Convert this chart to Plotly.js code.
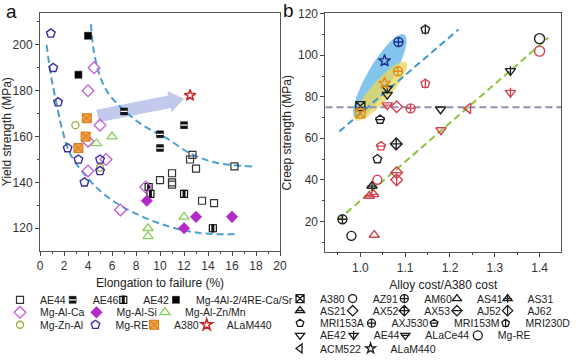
<!DOCTYPE html>
<html><head><meta charset="utf-8">
<script src="https://cdn.plot.ly/plotly-3.0.1.min.js"></script>
<style>html,body{margin:0;padding:0;background:#fff}#chart{width:576px;height:363px}</style>
</head><body><div id="chart"></div>
<script>
// ================= Panel a data (elongation %, yield strength MPa) =================
const aAE44X = [10, 11, 11, 11, 12.7, 12.5, 13, 13.5, 14.5, 16.2];
const aAE44Y = [141, 144, 140, 139, 152, 150, 146, 132, 131, 147];
const aAE46X = [7, 10, 10, 12];
const aAE46Y = [171, 161, 155, 165];
const aAE42X = [9.2, 9.05, 12, 14.4];
const aAE42Y = [135, 138, 135, 120];
const aMg4AlX = [4, 3.2];
const aMg4AlY = [204, 187];
const aMgAlCaX = [4.5, 4.0, 5.0, 4.0, 5.5, 4.0, 6.7, 8.8];
const aMgAlCaY = [190, 180, 165, 158, 150, 145, 128, 138];
const aMgAlSiX = [8.9, 12, 13, 16];
const aMgAlSiY = [132, 120, 125, 125];
const aMgAlZnX = [4.7, 6.0, 9, 9, 12];
const aMgAlZnY = [157, 160, 120, 116.5, 125];
const aMgZnAlX = [2.95, 5.0];
const aMgZnAlY = [165, 146.5];
const aMgREX = [0.9, 1.1, 1.5, 2.3, 3.2, 5.0, 5.0, 3.7];
const aMgREY = [205, 190, 175, 155, 150, 150, 145, 140];
const aA380X = [3.9, 3.8, 3.2];
const aA380Y = [168, 160, 155];
const aALaMX = [12.5];
const aALaMY = [178];
// guide curves
const aCurveLowX = [0.55, 0.9, 1.47, 1.9, 2.57, 3.95, 5.3, 7.0, 10, 13.2, 16.3];
const aCurveLowY = [200, 187, 172, 162, 152, 142, 135, 129, 122, 118, 117.4];
const aCurveHighX = [4.25, 4.6, 5.6, 8.1, 9.7, 10.7, 12.4, 14.6, 17.8];
const aCurveHighY = [209, 194, 179.6, 166.7, 161.6, 158.8, 153, 148.7, 146.9];

// ================= Panel b data (cost ratio, creep strength MPa) =================
const bBlackAlloy = ['A380','AZ91','AM60','AS31','AX53','MRI153A','MRI153M','MRI230D','AE42','AE42','AE44','AE44','Mg-RE'];
const bBlackX = [1.0, 0.98, 0.96, 1.026, 1.08, 1.038, 1.044, 1.145, 1.179, 1.06, 1.06, 1.335, 1.40];
const bBlackY = [75.5, 13, 21, 37, 57.3, 50, 69, 112.4, 74, 81, 84, 92.5, 108];
const bRedAlloy = ['AZ91','AM60','AS41','AS21','AS21','AX52','AJ52','AJ62','MRI153M','MRI230D','AE42','AE44','ALaCe44','Mg-RE','ACM522'];
const bRedX = [1.038, 1.112, 1.031, 1.02, 1.03, 1.081, 1.081, 1.081, 1.046, 1.145, 1.18, 1.335, 1.06, 1.40, 1.241];
const bRedY = [40, 74.4, 13.4, 32.2, 33, 75.2, 43.5, 40, 56.2, 86.3, 64, 82, 76, 102, 74.4];
const bNavyAlloy = ['AXJ530','ALaM440'];
const bNavyX = [1.085, 1.054];
const bNavyY = [106.4, 97.3];
const bOrangeAlloy = ['A380','AXJ530','ALaM440'];
const bOrangeX = [1.0, 1.084, 1.054];
const bOrangeY = [72, 92.3, 86.5];
// guide lines
const bBlueLineX = [0.953, 1.219];
const bBlueLineY = [63.3, 112.4];
const bGreenLineX = [0.95, 1.419];
const bGreenLineY = [20.6, 108.4];
const bRefLineX = [0.922, 1.448];
const bRefLineY = [75, 75];
const bLegendOrder = ['A380','AZ91','AM60','AS41','AS31','AS21','AX52','AX53','AJ52','AJ62',
  'MRI153A','AXJ530','MRI153M','MRI230D','AE42','AE44','ALaCe44','Mg-RE','ACM522','ALaM440'];

// ================= layout / style =================
const W = 576, H = 363;
const FONT = 'Arial, "Liberation Sans", sans-serif';
const layout = {
  width: W, height: H, margin: {l:0, r:0, t:0, b:0},
  paper_bgcolor: '#fff', plot_bgcolor: '#fff', font: {family: FONT, color: '#333'},
  showlegend: true, shapes: [], annotations: []
};
let legendCount = 0;
// each legend entry is its own one-item legend; (sx, sy) = symbol centre in px
function newLegend(sx, sy) {
  legendCount++;
  const key = legendCount === 1 ? 'legend' : 'legend' + legendCount;
  layout[key] = {x: (sx - 20) / W, y: 1 - sy / H, xanchor: 'left', yanchor: 'middle',
    orientation: 'h', bgcolor: 'rgba(0,0,0,0)', borderwidth: 0,
    font: {family: FONT, size: 10.5, color: '#222'}, itemclick: false, itemdoubleclick: false};
  return key;
}

function axisCommon() {
  return {showline: true, linecolor: '#555', linewidth: 1, mirror: true, showgrid: false,
    zeroline: false, ticks: 'outside', ticklen: 4, tickcolor: '#444',
    tickfont: {family: FONT, size: 12, color: '#333'}, automargin: false};
}
layout.xaxis = Object.assign(axisCommon(), {domain: [40.3/W, 282/W], range: [0, 20], anchor: 'y',
  tick0: 0, dtick: 2, minor: {dtick: 1, ticks: 'outside', ticklen: 2, tickcolor: '#444'},
  title: {text: 'Elongation to failure (%)', font: {family: FONT, size: 12, color: '#222'}, standoff: 6}});
layout.yaxis = Object.assign(axisCommon(), {domain: [(H-254)/H, (H-13)/H], range: [110.3, 214], anchor: 'x',
  tick0: 120, dtick: 20, minor: {dtick: 10, ticks: 'outside', ticklen: 2, tickcolor: '#444'},
  title: {text: 'Yield strength (MPa)', font: {family: FONT, size: 12, color: '#222'}, standoff: 3}});
layout.xaxis2 = Object.assign(axisCommon(), {domain: [327.7/W, 565/W], range: [0.922, 1.448], anchor: 'y2',
  tick0: 1.0, dtick: 0.1, tickformat: '.1f', minor: {dtick: 0.05, ticks: 'outside', ticklen: 2, tickcolor: '#444'},
  title: {text: 'Alloy cost/A380 cost', font: {family: FONT, size: 12, color: '#222'}, standoff: 6}});
layout.yaxis2 = Object.assign(axisCommon(), {domain: [(H-256)/H, (H-13.3)/H], range: [5, 120.3], anchor: 'x2',
  tick0: 0, dtick: 20, minor: {dtick: 10, ticks: 'outside', ticklen: 2, tickcolor: '#444'},
  title: {text: 'Creep strength (MPa)', font: {family: FONT, size: 12, color: '#222'}, standoff: 3}});

const traces = [];
// ---- panel a guide curves ----
[[aCurveLowX, aCurveLowY], [aCurveHighX, aCurveHighY]].forEach(([cx, cy]) => {
  traces.push({type: 'scatter', mode: 'lines', x: cx, y: cy, xaxis: 'x', yaxis: 'y', showlegend: false,
    hoverinfo: 'skip', line: {color: '#4a9fd4', width: 2, dash: '7px,4px', shape: 'spline', smoothing: 1}});
});
// ---- panel a arrow (shape below markers) ----
(function () {
  const xs = 241.7 / 20, ys = 241 / 103.7; // px per data unit
  const p0 = [4.8 * xs, 169 * ys], p1 = [12.0 * xs, 176.5 * ys];
  const dx = p1[0]-p0[0], dy = p1[1]-p0[1], L = Math.hypot(dx, dy);
  const ux = dx/L, uy = dy/L, nx = -uy, ny = ux;
  const hw = 6.5, hh = 11, hl = 15;
  const b = [p1[0]-ux*hl, p1[1]-uy*hl];
  const pts = [[p0[0]+nx*hw, p0[1]+ny*hw], [b[0]+nx*hw, b[1]+ny*hw], [b[0]+nx*hh, b[1]+ny*hh], p1,
    [b[0]-nx*hh, b[1]-ny*hh], [b[0]-nx*hw, b[1]-ny*hw], [p0[0]-nx*hw, p0[1]-ny*hw]];
  const path = pts.map((p, i) => (i ? 'L' : 'M') + (p[0]/xs).toFixed(4) + ',' + (p[1]/ys).toFixed(3)).join(' ') + ' Z';
  layout.shapes.push({type: 'path', xref: 'x', yref: 'y', path: path, fillcolor: 'rgba(184,192,234,0.85)',
    line: {width: 0}, layer: 'below'});
})();

// ---- panel a series ----
const aSeries = [
  {name: 'AE44', x: aAE44X, y: aAE44Y, sym: 'square-open', color: '#333', size: 7, lw: 1.2, leg: [20, 304]},
  {name: 'AE46', x: aAE46X, y: aAE46Y, sym: 'square', color: '#111', size: 7, lw: 0.5,
    over: {sym: 'line-ew-open', color: '#fff', size: 5, lw: 1.3}, leg: [73, 304]},
  {name: 'AE42', x: aAE42X, y: aAE42Y, sym: 'square-open', color: '#111', size: 7, lw: 1.2,
    over: {sym: 'line-ns-open', color: '#111', size: 6, lw: 3}, leg: [124, 304]},
  {name: 'Mg-4Al-2/4RE-Ca/Sr', x: aMg4AlX, y: aMg4AlY, sym: 'square', color: '#000', size: 7, lw: 0.5, leg: [177, 304]},
  {name: 'Mg-Al-Ca', x: aMgAlCaX, y: aMgAlCaY, sym: 'diamond-open', color: '#c45ad6', size: 9, lw: 1.3, leg: [20, 316.7]},
  {name: 'Mg-Al-Si', x: aMgAlSiX, y: aMgAlSiY, sym: 'diamond', color: '#b42ac8', size: 9, lw: 0.5, leg: [97, 316.7]},
  {name: 'Mg-Al-Zn/Mn', x: aMgAlZnX, y: aMgAlZnY, sym: 'triangle-up-open', color: '#86cf58', size: 9, lw: 1.3, leg: [166, 316.7]},
  {name: 'Mg-Zn-Al', x: aMgZnAlX, y: aMgZnAlY, sym: 'circle-open', color: '#9fa63a', size: 7, lw: 1.3, leg: [20, 329.3]},
  {name: 'Mg-RE', x: aMgREX, y: aMgREY, sym: 'pentagon-open', color: '#3b2ca0', size: 9, lw: 1.4, leg: [96, 329.3]},
  {name: 'A380', x: aA380X, y: aA380Y, sym: 'square-x', color: '#f0a040', lineColor: '#d27818', size: 9, lw: 1, leg: [155, 329.3]},
  {name: 'ALaM440', x: aALaMX, y: aALaMY, sym: 'star-open', color: '#c42a2e', size: 8.5, lw: 1.6, leg: [208, 329.3]}
];
aSeries.forEach(s => {
  const lg = newLegend(s.leg[0], s.leg[1]);
  const isOpen = s.sym.indexOf('open') >= 0;
  traces.push({type: 'scatter', mode: 'markers', name: s.name, x: s.x, y: s.y, xaxis: 'x', yaxis: 'y',
    legend: lg, showlegend: true,
    marker: {symbol: s.sym, size: s.size, color: s.color,
      line: {width: s.lw, color: isOpen ? s.color : (s.lineColor || s.color)}}});
  if (s.over) {
    const lg2 = newLegend(s.leg[0], s.leg[1]);
    traces.push({type: 'scatter', mode: 'markers', name: ' ', x: s.x, y: s.y, xaxis: 'x', yaxis: 'y',
      legend: lg2, showlegend: true, hoverinfo: 'skip',
      marker: {symbol: s.over.sym, size: s.over.size, color: s.over.color, line: {width: s.over.lw, color: s.over.color}}});
  }
});

// ---- panel b ellipses ----
function ellipsePath(x0, y0, x1, y1, halfPx) {
  const xs = 237.3 / 0.526, ys = 242.7 / 115.3;
  const cx = (x0 + x1) / 2 * xs, cy = (y0 + y1) / 2 * ys;
  const dx = (x1 - x0) * xs, dy = (y1 - y0) * ys, L = Math.hypot(dx, dy);
  const ux = dx / L, uy = dy / L, vx = -uy, vy = ux, a = L / 2;
  let d = '';
  for (let i = 0; i <= 48; i++) {
    const t = i / 48 * 2 * Math.PI;
    const px = cx + a * Math.cos(t) * ux + halfPx * Math.sin(t) * vx;
    const py = cy + a * Math.cos(t) * uy + halfPx * Math.sin(t) * vy;
    d += (i ? 'L' : 'M') + (px / xs).toFixed(5) + ',' + (py / ys).toFixed(3) + ' ';
  }
  return d + 'Z';
}
layout.shapes.push({type: 'path', xref: 'x2', yref: 'y2', layer: 'below', line: {width: 0},
  fillcolor: 'rgba(100,182,232,0.8)', path: ellipsePath(0.989, 69.6, 1.098, 110, 12.5)});
layout.shapes.push({type: 'path', xref: 'x2', yref: 'y2', layer: 'below', line: {width: 0},
  fillcolor: 'rgba(232,216,92,0.78)', path: ellipsePath(0.989, 68.8, 1.102, 96.6, 10)});

// ---- panel b guide lines ----
[[bBlueLineX, bBlueLineY, '#3d97d6'], [bGreenLineX, bGreenLineY, '#8cc43c'], [bRefLineX, bRefLineY, '#8f8fae']].forEach(([lx, ly, c]) => {
  traces.push({type: 'scatter', mode: 'lines', x: lx, y: ly, xaxis: 'x2', yaxis: 'y2', showlegend: false,
    hoverinfo: 'skip', line: {color: c, width: 2, dash: '7px,4px'}});
});

// ---- panel b markers ----
const bStyle = {
  'A380': {sym: 'square-x-open'}, 'AZ91': {sym: 'circle-open'}, 'AM60': {sym: 'circle-cross-open'},
  'AS41': {sym: 'triangle-up-open'}, 'AS31': {sym: 'triangle-up-open', over: 'cross-thin-open'},
  'AS21': {sym: 'triangle-up-open', over: 'line-ew-open'}, 'AX52': {sym: 'diamond-open'},
  'AX53': {sym: 'diamond-cross-open'}, 'AJ52': {sym: 'diamond-open', over: 'line-ew-open'},
  'AJ62': {sym: 'diamond-open', over: 'line-ns-open'}, 'MRI153A': {sym: 'pentagon-open'},
  'AXJ530': {sym: 'circle-cross-open'}, 'MRI153M': {sym: 'pentagon-open', over: 'line-ew-open'},
  'MRI230D': {sym: 'pentagon-open', over: 'line-ns-open'}, 'AE42': {sym: 'triangle-down-open'},
  'AE44': {sym: 'triangle-down-open', over: 'line-ns-open'}, 'ALaCe44': {sym: 'triangle-down-open', over: 'line-ew-open'},
  'Mg-RE': {sym: 'circle-open'}, 'ACM522': {sym: 'triangle-left-open'}, 'ALaM440': {sym: 'star-open'}
};
// legend symbol centres (px) for panel b
const bLegendPos = {
  'A380': [302, 302.7], 'AZ91': [355, 302.7], 'AM60': [407, 302.7], 'AS41': [460, 302.7], 'AS31': [511, 302.7],
  'AS21': [302, 315], 'AX52': [355, 315], 'AX53': [407, 315], 'AJ52': [460, 315], 'AJ62': [511, 315],
  'MRI153A': [302, 327.7], 'AXJ530': [374, 327.7], 'MRI153M': [437, 327.7], 'MRI230D': [509, 327.7],
  'AE42': [302, 340], 'AE44': [356, 340], 'ALaCe44': [408, 340], 'Mg-RE': [481, 340],
  'ACM522': [302, 353.3], 'ALaM440': [373, 353.3]
};
function symSize(name) { return name === 'ALaM440' ? 9 : (name === 'Mg-RE' ? 10 : 9); }
const groups = [[bBlackAlloy, bBlackX, bBlackY, '#222'], [bRedAlloy, bRedX, bRedY, '#d04452'],
  [bNavyAlloy, bNavyX, bNavyY, '#1d2f8c'], [bOrangeAlloy, bOrangeX, bOrangeY, '#e58a1c']];
groups.forEach(([al, gx, gy, col]) => {
  [...new Set(al)].forEach(name => {
    const px = [], py = [];
    al.forEach((a, i) => { if (a === name) { px.push(gx[i]); py.push(gy[i]); } });
    const st = bStyle[name], sz = symSize(name);
    traces.push({type: 'scatter', mode: 'markers', name: name, x: px, y: py, xaxis: 'x2', yaxis: 'y2',
      showlegend: false, marker: {symbol: st.sym, size: sz, color: col, line: {width: 1.4, color: col}}});
    if (st.over) traces.push({type: 'scatter', mode: 'markers', name: name, x: px, y: py, xaxis: 'x2', yaxis: 'y2',
      showlegend: false, hoverinfo: 'skip',
      marker: {symbol: st.over, size: sz - 2, color: col, line: {width: 1.3, color: col}}});
  });
});
// ---- panel b legend (black icons) ----
bLegendOrder.forEach(name => {
  const st = bStyle[name], pos = bLegendPos[name], sz = name === 'ALaM440' ? 7.5 : symSize(name) - 1;
  traces.push({type: 'scatter', mode: 'markers', name: name, x: [null], y: [null], xaxis: 'x2', yaxis: 'y2',
    legend: newLegend(pos[0], pos[1]), showlegend: true,
    marker: {symbol: st.sym, size: sz, color: '#1a1a1a', line: {width: 1.3, color: '#1a1a1a'}}});
  if (st.over) traces.push({type: 'scatter', mode: 'markers', name: ' ', x: [null], y: [null], xaxis: 'x2', yaxis: 'y2',
    legend: newLegend(pos[0], pos[1]), showlegend: true,
    marker: {symbol: st.over, size: sz - 2, color: '#1a1a1a', line: {width: 1.2, color: '#1a1a1a'}}});
});

// ---- panel labels ----
layout.annotations.push({text: 'a', xref: 'paper', yref: 'paper', x: 12/W, y: 1 - 12/H, xanchor: 'center', yanchor: 'middle',
  showarrow: false, font: {family: FONT, size: 19, color: '#111'}});
layout.annotations.push({text: 'b', xref: 'paper', yref: 'paper', x: 291/W, y: 1 - 11/H, xanchor: 'center', yanchor: 'middle',
  showarrow: false, font: {family: FONT, size: 19, color: '#111'}});

Plotly.newPlot('chart', traces, layout, {displayModeBar: false, staticPlot: true});
</script>
</body></html>
